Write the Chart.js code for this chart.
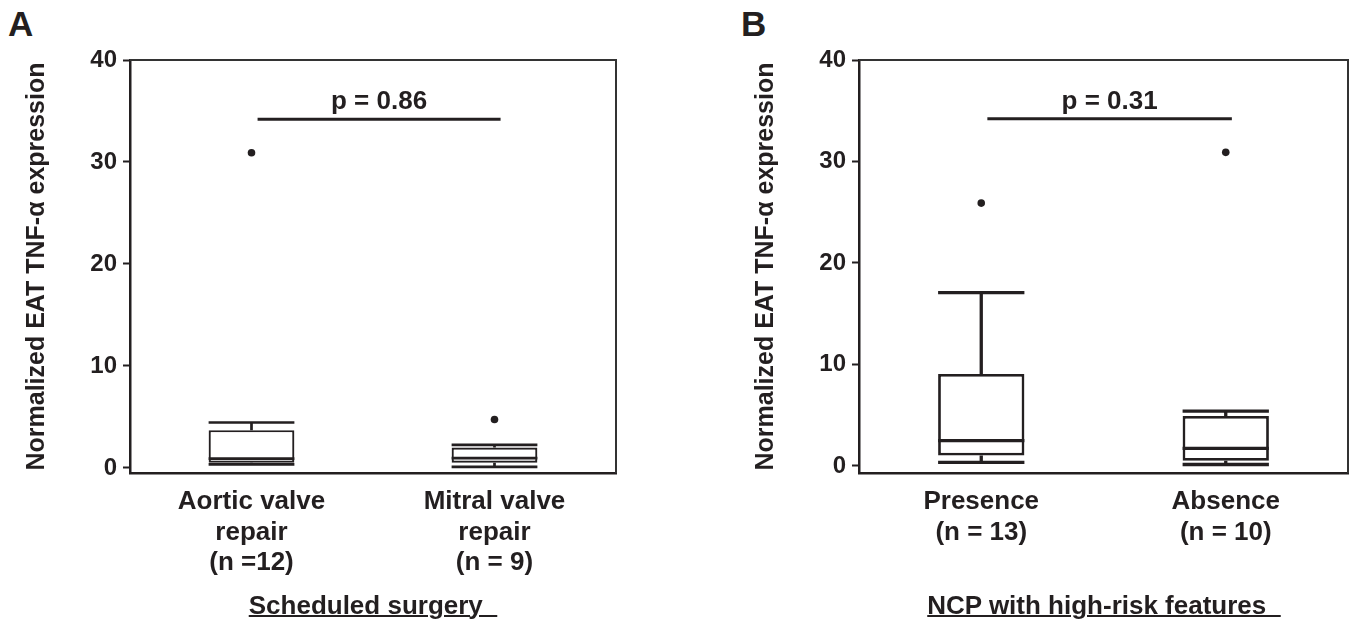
<!DOCTYPE html>
<html>
<head>
<meta charset="utf-8">
<script src="https://cdn.jsdelivr.net/npm/chart.js@4.4.1/dist/chart.umd.min.js"></script>
<style>
  body { margin: 0; background: #fff; }
  #wrap { position: relative; width: 1354px; height: 623px; overflow: hidden; font-family: "Liberation Sans", Arial, sans-serif; color: #231f20; }
  canvas { position: absolute; top: 0; }
  .letter { position: absolute; top: 4px; font-size: 35px; font-weight: bold; line-height: 40px; }
  .group { position: absolute; top: 590px; width: 600px; text-align: center; font-size: 26px; font-weight: bold; line-height: 30px; white-space: pre; }
  .group span { text-decoration: underline; text-decoration-thickness: 2px; }
</style>
</head>
<body>
<div id="wrap">
  <div class="letter" style="left:8px">A</div>
  <div class="letter" style="left:741px">B</div>
  <canvas id="chartA" width="620" height="623" style="left:0px"></canvas>
  <canvas id="chartB" width="625" height="623" style="left:729px"></canvas>
  <div class="group" style="left:73px"><span>Scheduled surgery&nbsp;&nbsp;</span></div>
  <div class="group" style="left:804px"><span>NCP with high-risk features&nbsp;&nbsp;</span></div>
</div>
<script>
"use strict";

// --- data ---
var yTicks = [0, 10, 20, 30, 40];
var yTitle = 'Normalized EAT TNF-\u03b1 expression';

// panel A: scheduled surgery
var labelsA = [['Aortic valve', 'repair', '(n =12)'], ['Mitral valve', 'repair', '(n = 9)']];
var minA = [0.35, 0.1];
var q1A = [0.5, 0.5];
var medianA = [0.9, 0.95];
var q3A = [3.7, 2.0];
var maxA = [4.45, 2.25];
var outliersA = [30.9, 4.75];
var pTextA = 'p = 0.86';
var bracketA = 34.2;

// panel B: NCP with high-risk features
var labelsB = [['Presence', '(n = 13)'], ['Absence', '(n = 10)']];
var minB = [0.34, 0.14];
var q1B = [1.03, 0.5];
var medianB = [2.5, 1.72];
var q3B = [9.05, 4.92];
var maxB = [17.07, 5.39];
var outliersB = [25.9, 30.9];
var pTextB = 'p = 0.31';
var bracketB = 34.2;

var ink = '#231f20';
Chart.defaults.font.family = '"Liberation Sans", Arial, sans-serif';
Chart.defaults.color = ink;

// whiskers, medians, frame and the p-value bracket
var boxExtras = {
    id: 'boxExtras',
    afterDatasetsDraw: function (chart, args, opts) {
        var ctx = chart.ctx;
        var y = chart.scales.y;
        var x = chart.scales.x;
        var meta = chart.getDatasetMeta(0);
        ctx.save();
        ctx.strokeStyle = ink;
        ctx.lineWidth = opts.lineWidth;
        ctx.lineCap = 'butt';
        meta.data.forEach(function (bar, i) {
            var cx = bar.x, hw = bar.width / 2;
            var yMed = y.getPixelForValue(opts.median[i]);
            var yMax = y.getPixelForValue(opts.max[i]);
            var yMin = y.getPixelForValue(opts.min[i]);
            var yQ3 = y.getPixelForValue(opts.q3[i]);
            var yQ1 = y.getPixelForValue(opts.q1[i]);
            ctx.beginPath();
            ctx.moveTo(cx - hw, yMed); ctx.lineTo(cx + hw, yMed);
            ctx.moveTo(cx, yQ3); ctx.lineTo(cx, yMax);
            ctx.moveTo(cx - hw, yMax); ctx.lineTo(cx + hw, yMax);
            ctx.moveTo(cx, yQ1); ctx.lineTo(cx, yMin);
            ctx.moveTo(cx - hw, yMin); ctx.lineTo(cx + hw, yMin);
            ctx.stroke();
        });

        // p-value bracket
        var by = y.getPixelForValue(opts.bracket);
        var bx0 = x.getPixelForValue(0.025);
        var bx1 = x.getPixelForValue(1.025);
        ctx.lineWidth = 3;
        ctx.beginPath();
        ctx.moveTo(bx0, by); ctx.lineTo(bx1, by);
        ctx.stroke();
        ctx.fillStyle = ink;
        ctx.font = 'bold 26px "Liberation Sans", Arial, sans-serif';
        ctx.textAlign = 'center';
        ctx.textBaseline = 'alphabetic';
        ctx.fillText(opts.pText, (bx0 + bx1) / 2, by - 10);

        // top and right frame
        var a = chart.chartArea;
        ctx.strokeStyle = '#333';
        ctx.lineWidth = 2;
        ctx.beginPath();
        ctx.moveTo(a.left, a.top); ctx.lineTo(a.right, a.top); ctx.lineTo(a.right, a.bottom);
        ctx.stroke();
        ctx.restore();
    }
};

function makeChart(id, labels, mins, q1s, medians, q3s, maxs, outliers, pText, bracket, yMin, lw, padRight) {
    var boxes = q1s.map(function (q, i) { return [q, q3s[i]]; });
    return new Chart(document.getElementById(id), {
        type: 'bar',
        data: {
            labels: labels,
            datasets: [{
                data: boxes,
                backgroundColor: '#fff',
                borderColor: ink,
                borderWidth: lw,
                borderSkipped: false,
                categoryPercentage: 1,
                barPercentage: 0.353
            }, {
                type: 'line',
                data: outliers,
                showLine: false,
                pointRadius: 3.8,
                pointBackgroundColor: ink,
                pointBorderWidth: 0
            }]
        },
        options: {
            responsive: false,
            animation: false,
            devicePixelRatio: 1,
            layout: { padding: { top: 60, right: padRight, bottom: 0, left: 0 } },
            plugins: {
                legend: { display: false },
                tooltip: { enabled: false },
                boxExtras: { min: mins, q1: q1s, median: medians, q3: q3s, max: maxs, pText: pText, bracket: bracket, lineWidth: lw + 0.5 }
            },
            scales: {
                x: {
                    offset: true,
                    grid: { display: false, drawTicks: false },
                    border: { display: true, color: ink, width: 2.5 },
                    ticks: {
                        autoSkip: false, maxRotation: 0, padding: 14, color: ink,
                        font: { size: 26, weight: 'bold', lineHeight: 1.17 }
                    },
                    afterFit: function (s) { s.height = 150; }
                },
                y: {
                    min: yMin,
                    max: 40,
                    afterBuildTicks: function (s) { s.ticks = yTicks.map(function (v) { return { value: v }; }); },
                    afterFit: function (s) { s.width = 130; },
                    grid: { drawOnChartArea: false, drawTicks: true, tickLength: 7, tickWidth: 2, tickColor: ink },
                    border: { display: true, color: ink, width: 2.5 },
                    ticks: { padding: 6, color: ink, font: { size: 24, weight: 'bold' } },
                    title: {
                        display: true, text: yTitle, color: ink,
                        padding: { top: 22, bottom: 0 },
                        font: { size: 25, weight: 'bold', lineHeight: 1.2 }
                    }
                }
            }
        },
        plugins: [boxExtras]
    });
}

makeChart('chartA', labelsA, minA, q1A, medianA, q3A, maxA, outliersA, pTextA, bracketA, -0.5, 2.2, 3);
makeChart('chartB', labelsB, minB, q1B, medianB, q3B, maxB, outliersB, pTextB, bracketB, -0.7, 2.8, 6);
</script>
</body>
</html>
